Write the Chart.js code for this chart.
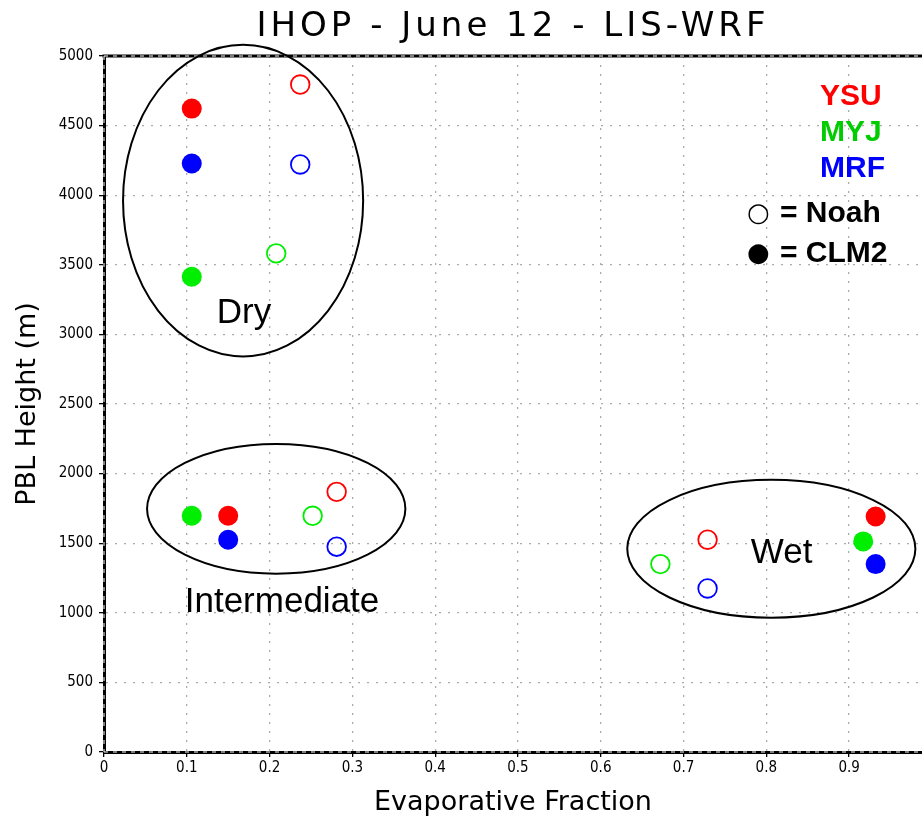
<!DOCTYPE html>
<html>
<head>
<meta charset="utf-8">
<script src="https://cdn.jsdelivr.net/npm/chart.js@4.4.1/dist/chart.umd.min.js"></script>
<style>
html,body{margin:0;padding:0;background:#fff;overflow:hidden}
#wrap{width:922px;height:823px;position:relative}
</style>
</head>
<body>
<div id="wrap"><canvas id="c" width="922" height="823"></canvas></div>
<script>
// ---- categories / labels ----
const regimes = ['Dry', 'Intermediate', 'Wet'];
const schemes = ['YSU', 'MYJ', 'MRF'];
const landModels = ['Noah', 'CLM2'];

// ---- series values (one value per regime: Dry, Intermediate, Wet) ----
const ysuNoahX = [0.237, 0.281, 0.729];
const ysuNoahY = [4795, 1869, 1525];
const ysuClm2X = [0.106, 0.150, 0.932];
const ysuClm2Y = [4622, 1697, 1692];
const myjNoahX = [0.208, 0.252, 0.672];
const myjNoahY = [3582, 1697, 1350];
const myjClm2X = [0.106, 0.106, 0.917];
const myjClm2Y = [3414, 1697, 1513];
const mrfNoahX = [0.237, 0.281, 0.729];
const mrfNoahY = [4221, 1475, 1175];
const mrfClm2X = [0.106, 0.150, 0.932];
const mrfClm2Y = [4228, 1525, 1350];

// ---- tick labels ----
const xTicks = [0, 0.1, 0.2, 0.3, 0.4, 0.5, 0.6, 0.7, 0.8, 0.9];
const yTicks = [0, 500, 1000, 1500, 2000, 2500, 3000, 3500, 4000, 4500, 5000];

// ---- regime ellipses (data units) ----
const ellipseCX = [0.168, 0.208, 0.806];
const ellipseCY = [3961, 1747, 1460];
const ellipseRX = [0.145, 0.156, 0.174];
const ellipseRY = [1119, 466, 495];
const regimeLabelX = [0.169, 0.215, 0.8185];
const regimeLabelY = [3080, 1008, 1358];

const pointColors = {YSU: '#ff0000', MYJ: '#00ee00', MRF: '#0000ff'};
const legendColors = {YSU: '#ff0000', MYJ: '#00cc00', MRF: '#0000ff'};

const series = [
  {scheme: 'YSU', lsm: 'Noah', xs: ysuNoahX, ys: ysuNoahY},
  {scheme: 'YSU', lsm: 'CLM2', xs: ysuClm2X, ys: ysuClm2Y},
  {scheme: 'MYJ', lsm: 'Noah', xs: myjNoahX, ys: myjNoahY},
  {scheme: 'MYJ', lsm: 'CLM2', xs: myjClm2X, ys: myjClm2Y},
  {scheme: 'MRF', lsm: 'Noah', xs: mrfNoahX, ys: mrfNoahY},
  {scheme: 'MRF', lsm: 'CLM2', xs: mrfClm2X, ys: mrfClm2Y}
];

const datasets = series.map(s => {
  const open = s.lsm === 'Noah';
  const col = pointColors[s.scheme];
  return {
    label: s.scheme + ' / ' + s.lsm,
    data: s.xs.map((x, i) => ({x: x, y: s.ys[i]})),
    showLine: false,
    pointRadius: open ? 9.3 : 10,
    pointHoverRadius: open ? 9.3 : 10,
    pointBorderWidth: open ? 1.8 : 0,
    pointBackgroundColor: open ? 'rgba(0,0,0,0)' : col,
    pointBorderColor: col
  };
});

const tickFont = {family: "'DejaVu Sans Condensed', 'Liberation Sans Narrow', sans-serif", size: 15};
const axisTitleFont = {family: "'DejaVu Sans', sans-serif", size: 27};

const framePlugin = {
  id: 'frame',
  beforeDraw(chart) {
    const tb = chart.titleBlock;
    if (tb && !tb._spaced) {
      const orig = tb.draw;
      tb.draw = function () {
        const ctx = this.ctx;
        ctx.save();
        ctx.letterSpacing = '4px';
        orig.apply(this, arguments);
        ctx.restore();
      };
      tb._spaced = true;
    }
  },
  beforeDatasetsDraw(chart) {
    const {ctx, chartArea: a} = chart;
    ctx.save();
    ctx.strokeStyle = '#000';
    ctx.lineWidth = 3;
    ctx.beginPath();
    ctx.moveTo(a.left - 1.5, a.top);
    ctx.lineTo(a.right, a.top);
    ctx.stroke();
    ctx.strokeStyle = '#fff';
    ctx.lineWidth = 1;
    ctx.setLineDash([4, 5]);
    ctx.beginPath();
    ctx.moveTo(a.left, a.top); ctx.lineTo(a.right, a.top);
    ctx.moveTo(a.left, a.bottom); ctx.lineTo(a.right, a.bottom);
    ctx.moveTo(a.left, a.top); ctx.lineTo(a.left, a.bottom);
    ctx.stroke();
    ctx.restore();
  },
  afterDatasetsDraw(chart) {
    const {ctx} = chart;
    const xs = chart.scales.x, ys = chart.scales.y;
    ctx.save();
    ctx.strokeStyle = '#000';
    ctx.lineWidth = 2;
    regimes.forEach((r, i) => {
      const cx = xs.getPixelForValue(ellipseCX[i]);
      const cy = ys.getPixelForValue(ellipseCY[i]);
      const rx = xs.getPixelForValue(ellipseCX[i] + ellipseRX[i]) - cx;
      const ry = cy - ys.getPixelForValue(ellipseCY[i] + ellipseRY[i]);
      ctx.beginPath();
      ctx.ellipse(cx, cy, rx, ry, 0, 0, Math.PI * 2);
      ctx.stroke();
    });
    ctx.fillStyle = '#000';
    ctx.font = "35px 'Liberation Sans', Arial, sans-serif";
    ctx.textAlign = 'center';
    ctx.textBaseline = 'alphabetic';
    regimes.forEach((r, i) => {
      ctx.fillText(r, xs.getPixelForValue(regimeLabelX[i]), ys.getPixelForValue(regimeLabelY[i]));
    });
    // legend
    ctx.textAlign = 'left';
    ctx.font = "bold 30px 'Liberation Sans', Arial, sans-serif";
    schemes.forEach((s, i) => {
      ctx.fillStyle = legendColors[s];
      ctx.fillText(s, 820, 105 + i * 36);
    });
    ctx.fillStyle = '#000';
    const symY = [222, 262];
    landModels.forEach((m, i) => {
      ctx.fillText('= ' + m, 780, symY[i]);
    });
    ctx.font = "bold 26px 'DejaVu Sans', sans-serif";
    ctx.fillText('\u25CB', 747, symY[0] - 1);
    ctx.fillText('\u25CF', 747, symY[1] - 1);
    ctx.restore();
  }
};

new Chart(document.getElementById('c'), {
  type: 'scatter',
  data: {datasets: datasets},
  plugins: [framePlugin],
  options: {
    responsive: false,
    animation: false,
    events: [],
    layout: {padding: 0, autoPadding: false},
    plugins: {
      legend: {display: false},
      tooltip: {enabled: false},
      title: {
        display: true,
        text: 'IHOP - June 12 - LIS-WRF',
        fullSize: false,
        color: '#000',
        font: {family: "'DejaVu Sans', sans-serif", size: 34, weight: 'normal'},
        padding: {top: 7, bottom: 8.2}
      }
    },
    scales: {
      x: {
        type: 'linear',
        min: 0,
        max: 0.988,
        afterBuildTicks: s => { s.ticks = xTicks.map(v => ({value: v})); },
        afterFit: s => { s.height = 71; },
        ticks: {
          font: tickFont, color: '#000', padding: 2, maxRotation: 0, autoSkip: false,
          callback: v => (v === 0 ? '0' : v.toFixed(1))
        },
        grid: {color: '#ababab', lineWidth: 1.3, tickColor: '#000', tickLength: 5, tickWidth: 1.3},
        border: {display: true, color: '#000', width: 3, dash: [2, 7]},
        title: {display: true, text: 'Evaporative Fraction', color: '#000', font: axisTitleFont, padding: {top: 0, bottom: 4}}
      },
      y: {
        type: 'linear',
        min: 0,
        max: 5000,
        afterBuildTicks: s => { s.ticks = yTicks.map(v => ({value: v})); },
        afterFit: s => { s.width = 104; },
        ticks: {font: tickFont, color: '#000', padding: 6, autoSkip: false, callback: v => String(v)},
        grid: {color: '#ababab', lineWidth: 1.3, tickColor: '#000', tickLength: 5, tickWidth: 1.3},
        border: {display: true, color: '#000', width: 3, dash: [2, 7]},
        title: {display: true, text: 'PBL Height (m)', color: '#000', font: axisTitleFont, padding: {top: 12, bottom: 0}}
      }
    }
  }
});
</script>
</body>
</html>
